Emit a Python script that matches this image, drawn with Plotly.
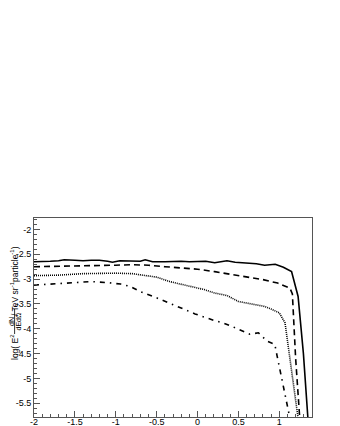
import plotly.graph_objects as go

# ---- data ----
solid_x = [-2.0, -1.9, -1.8, -1.7, -1.63, -1.5, -1.4, -1.3, -1.2, -1.1, -1.04, -0.95, -0.8, -0.7,
           -0.64, -0.55, -0.4, -0.3, -0.2, -0.1, 0.0, 0.1, 0.21, 0.36, 0.46, 0.62, 0.72, 0.82,
           0.9, 0.95, 1.05, 1.15, 1.23, 1.295, 1.35]
solid_y = [-2.65, -2.65, -2.64, -2.63, -2.61, -2.62, -2.63, -2.62, -2.62, -2.64, -2.66, -2.63, -2.63, -2.64,
           -2.61, -2.65, -2.65, -2.64, -2.64, -2.65, -2.64, -2.64, -2.67, -2.63, -2.66, -2.67, -2.69, -2.72,
           -2.71, -2.70, -2.76, -2.85, -3.35, -4.50, -5.80]

dash_x = [-2.0, -1.5, -1.2, -1.0, -0.8, -0.6, -0.4, -0.2, 0.0, 0.21, 0.4, 0.62, 0.8, 0.98, 1.13, 1.16, 1.20, 1.25]
dash_y = [-2.75, -2.74, -2.73, -2.72, -2.71, -2.72, -2.75, -2.77, -2.80, -2.85, -2.90, -2.95, -3.01, -3.08, -3.18, -3.30, -4.60, -5.80]

dot_x = [-2.0, -1.7, -1.4, -1.2, -1.0, -0.8, -0.64, -0.5, -0.34, -0.07, 0.08, 0.21, 0.36, 0.50, 0.65, 0.82, 0.91, 1.0, 1.07, 1.13, 1.23]
dot_y = [-2.93, -2.92, -2.89, -2.88, -2.88, -2.89, -2.92, -2.96, -3.05, -3.15, -3.21, -3.28, -3.33, -3.45, -3.50, -3.55, -3.61, -3.68, -3.88, -4.61, -5.80]

dd_x = [-2.0, -1.8, -1.6, -1.3, -1.1, -0.94, -0.82, -0.70, -0.48, -0.25, -0.03, 0.20, 0.31, 0.42, 0.64, 0.745, 0.85, 0.945, 0.965, 1.13]
dd_y = [-3.12, -3.10, -3.08, -3.05, -3.07, -3.10, -3.15, -3.25, -3.39, -3.55, -3.70, -3.83, -3.88, -3.95, -4.11, -4.08, -4.25, -4.31, -4.48, -5.80]

x_ticks = [-2, -1.5, -1, -0.5, 0, 0.5, 1]
x_tick_labels = ["-2", "-1.5", "-1", "-0.5", "0", "0.5", "1"]
y_ticks = [-2, -2.5, -3, -3.5, -4, -4.5, -5, -5.5]
y_tick_labels = ["-2", "-2.5", "-3", "-3.5", "-4", "-4.5", "-5", "-5.5"]

# ---- layout geometry (pixels); page body adds an 8px offset ----
OFF = 8
W, H = 332, 418
L, R, T, B = 26, 28, 210, 9
pw, ph = W - L - R, H - T - B


def px(xp):
    return (xp - OFF - L) / pw


def py(yp):
    return (OFF + H - B - yp) / ph


fig = go.Figure()
fig.add_trace(go.Scatter(x=solid_x, y=solid_y, mode="lines",
                         line=dict(color="black", width=1.6), showlegend=False))
fig.add_trace(go.Scatter(x=dash_x, y=dash_y, mode="lines",
                         line=dict(color="black", width=1.6, dash="6px,4px"), showlegend=False))
fig.add_trace(go.Scatter(x=dot_x, y=dot_y, mode="lines",
                         line=dict(color="black", width=1.6, dash="1px,1px"), showlegend=False))
fig.add_trace(go.Scatter(x=dd_x, y=dd_y, mode="lines",
                         line=dict(color="black", width=1.6, dash="5px,5px,1.5px,5px"), showlegend=False))

tickfont = dict(family="Liberation Sans, Arial, sans-serif", size=9, color="black")
axis_common = dict(showgrid=False, zeroline=False, showline=True, linecolor="#555", linewidth=1,
                   mirror=True, ticks="inside", ticklen=6, tickcolor="#555", tickwidth=1,
                   tickfont=tickfont, automargin=False)

fig.update_xaxes(range=[-2.0, 1.4], tickmode="array", tickvals=x_ticks, ticktext=x_tick_labels,
                 minor=dict(ticks="inside", dtick=0.1, tick0=-2, ticklen=3, tickcolor="#555"),
                 ticklabelstandoff=-4, **axis_common)
fig.update_yaxes(range=[-5.775, -1.77], tickmode="array", tickvals=y_ticks, ticktext=y_tick_labels,
                 minor=dict(ticks="inside", dtick=0.1, tick0=-2, ticklen=3, tickcolor="#555"),
                 **axis_common)

tf = dict(family="Liberation Sans, Arial, sans-serif", size=8.5, color="black")
sf = dict(family="Liberation Sans, Arial, sans-serif", size=7, color="black")
anns = [
    dict(text="log( E<sup>2</sup>", x=px(14), y=py(347), font=tf),
    dict(text="dN", x=px(11.5), y=py(321.5), font=sf),
    dict(text="dEdΩ", x=px(18), y=py(321.5), font=sf),
    dict(text="/ TeV sr<sup>-1</sup>particle<sup>-1</sup>)", x=px(14), y=py(281), font=tf),
]
for a in anns:
    fig.add_annotation(xref="paper", yref="paper", showarrow=False, textangle=-90,
                       xanchor="center", yanchor="middle", borderpad=0, **a)

fig.add_shape(type="line", xref="paper", yref="paper", x0=px(14.6), x1=px(14.6), y0=py(309), y1=py(334),
              line=dict(color="black", width=0.8))

fig.update_layout(width=W, height=H, template="none",
                  margin=dict(l=L, r=R, t=T, b=B, pad=0),
                  paper_bgcolor="white", plot_bgcolor="white", showlegend=False)

fig.write_html("out.html")
